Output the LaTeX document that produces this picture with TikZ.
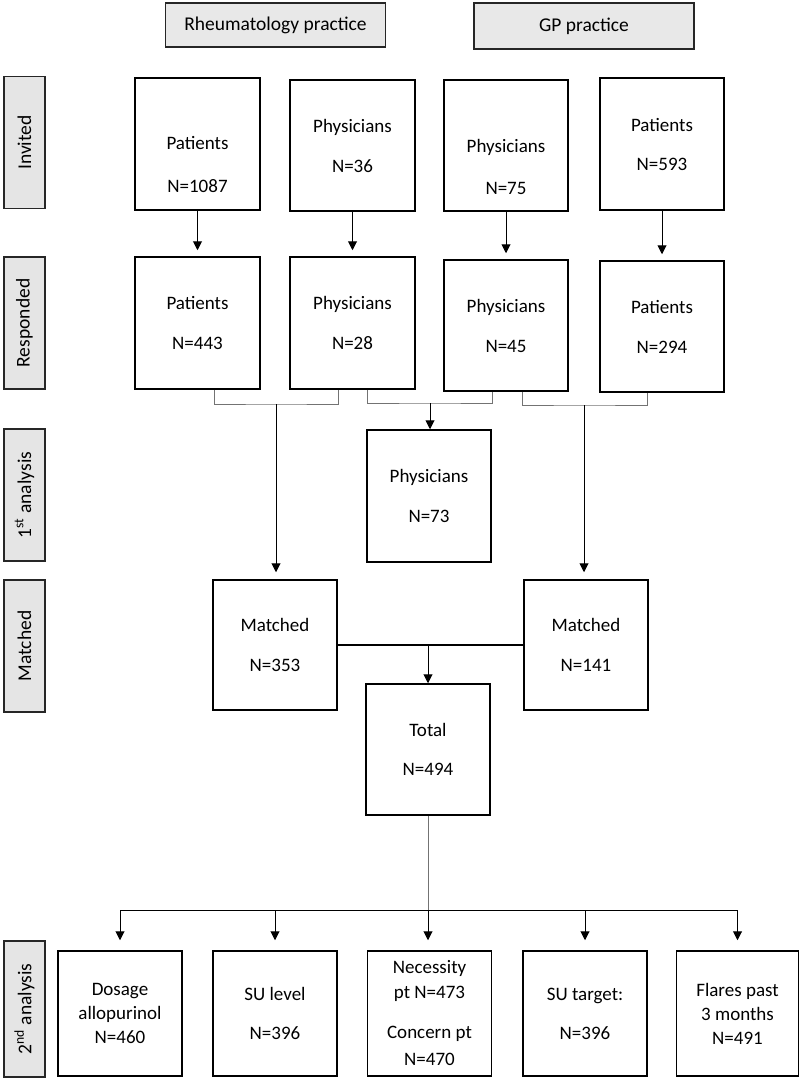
\documentclass[tikz,border=0pt]{standalone}
\usepackage{fontspec}
\setmainfont{Carlito}
\usetikzlibrary{arrows.meta,calc}
\begin{document}
\begin{tikzpicture}[x=1pt,y=-1pt,
  box/.style={draw=black,line width=1.5pt,minimum width=124pt,minimum height=131pt,inner sep=0pt,align=center,font=\fontsize{19}{23}\selectfont},
  txt/.style={align=center,font=\fontsize{19}{23}\selectfont,inner sep=0pt},
  hdr/.style={draw=black!85,line width=1.3pt,fill=black!9,minimum width=220pt,minimum height=44pt,inner sep=0pt,font=\fontsize{19.5}{23}\selectfont},
  lbl/.style={draw=black!85,line width=1.3pt,fill=black!10,minimum width=132pt,minimum height=41pt,inner sep=0pt,rotate=90,font=\fontsize{19.5}{23}\selectfont},
  arr/.style={line width=1pt,-{Triangle[length=9pt,width=9pt]}},
  brk/.style={draw=black!55,line width=0.8pt},
  lin/.style={line width=1.3pt}
]
\useasboundingbox (0,0) rectangle (800,1086);

% headers
\node[hdr] (hrh) at (275.5,25) {Rheumatology practice};
\node[hdr,minimum height=46pt] (hgp) at (584,26) {GP practice};

% row labels
\node[lbl] (linv) at (24.5,142.5) {Invited};
\node[lbl] (lres) at (24.5,323) {Responded};
\node[lbl] (lfirst) at (24.5,495) {1\textsuperscript{st} analysis};
\node[lbl] (lmat) at (24.5,646) {Matched};
\node[lbl,minimum width=136pt] (lsec) at (24.5,1009) {2\textsuperscript{nd} analysis};

% invited
\node[box,minimum width=125pt,minimum height=132pt,label={[txt,yshift=-20.5pt]center:{Patients\\[20pt]N=1087}}] (inv1) at (197.5,144) {};
\node[box,minimum width=125pt] (inv2) at (352.5,145.5) {Physicians\\[17pt]N=36};
\node[box,label={[txt,yshift=-21.5pt]center:{Physicians\\[19pt]N=75}}] (inv3) at (506,145.5) {};
\node[box,minimum height=132pt] (inv4) at (662,144) {Patients\\[16pt]N=593};

% responded
\node[box,minimum width=125pt,minimum height=132pt] (res1) at (197.5,323) {Patients\\[17pt]N=443};
\node[box,minimum width=125pt,minimum height=132pt] (res2) at (352.5,323) {Physicians\\[17pt]N=28};
\node[box] (res3) at (506,325.5) {Physicians\\[17pt]N=45};
\node[box] (res4) at (662,326.5) {Patients\\[17pt]N=294};

% first analysis
\node[box,minimum height=132pt] (phys) at (429,496) {Physicians\\[17pt]N=73};

% matched
\node[box,minimum height=130pt] (m1) at (275,645) {Matched\\[17pt]N=353};
\node[box,minimum height=130pt] (m2) at (586,645) {Matched\\[17pt]N=141};
\node[box] (total) at (428,749.5) {Total\\[16pt]N=494};

% second analysis
\node[box,minimum height=125pt] (b1) at (120,1013.5) {Dosage\\[1pt]allopurinol\\[1pt]N=460};
\node[box,minimum height=125pt] (b2) at (275,1013.5) {SU level\\[16pt]N=396};
\node[box,minimum height=125pt] (b3) at (429.5,1013.5) {Necessity\\[2pt]pt N=473\\[17pt]Concern pt\\[4pt]N=470};
\node[box,minimum height=125pt] (b4) at (585,1013.5) {SU target:\\[16pt]N=396};
\node[box,minimum height=125pt,minimum width=122pt] (b5) at (737.5,1013.5) {Flares past\\[1pt]3 months\\[1pt]N=491};

% invited -> responded
\foreach \i in {1,...,4}
  \draw[arr,shorten >=6pt] (inv\i.south) -- (res\i.north);

% brackets
\coordinate (k1) at (276,404);
\coordinate (k2) at (430,403);
\coordinate (k3) at (584,405);
\draw[brk] ($(res1.south)+(16.5,0)$) |- (k1) -| ($(res2.south)+(-14.5,0)$);
\draw[brk] ($(res2.south)+(14.5,0)$) |- (k2) -| ($(res3.south)+(-14,0)$);
\draw[brk] ($(res3.south)+(16,0)$) |- (k3) -| ($(res4.south)+(-15,0)$);

\draw[arr,shorten >=7pt] (k1) -- (k1 |- m1.north);
\draw[arr] (k2) -- (k2 |- phys.north);
\draw[arr,shorten >=7pt] (k3) -- (k3 |- m2.north);

% matched -> total
\draw[lin] (m1.east) -- (m2.west);
\coordinate (j1) at (total.north |- m1.east);
\draw[arr] (j1) -- (total.north);

% total -> second analysis
\coordinate (j2) at ($(total.south)+(0,95)$);
\draw[brk] (total.south) -- (j2);
\draw[lin] (b1 |- j2) -- (b5 |- j2);
\foreach \b in {b1,b2,b4,b5}
  \draw[arr,shorten >=10pt] (\b |- j2) -- (\b.north);
\draw[arr,shorten >=10pt] (j2) -- (j2 |- b3.north);
\end{tikzpicture}
\end{document}
